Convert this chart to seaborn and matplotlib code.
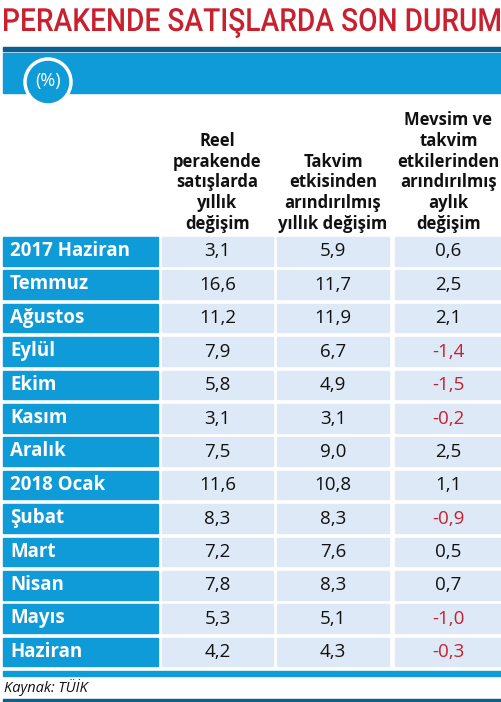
import matplotlib
matplotlib.use("Agg")
import matplotlib.pyplot as plt
import seaborn as sns
from matplotlib.patches import Rectangle, Circle, PathPatch
from matplotlib.textpath import TextPath
from matplotlib.font_manager import FontProperties
from matplotlib.transforms import Affine2D

sns.set_theme(style="white")
plt.rcParams['font.family'] = ['Open Sans', 'DejaVu Sans']

months = ["2017 Haziran", "Temmuz", "Ağustos", "Eylül", "Ekim", "Kasım", "Aralık",
          "2018 Ocak", "Şubat", "Mart", "Nisan", "Mayıs", "Haziran"]
real_yoy = [3.1, 16.6, 11.2, 7.9, 5.8, 3.1, 7.5, 11.6, 8.3, 7.2, 7.8, 5.3, 4.2]
cal_adj_yoy = [5.9, 11.7, 11.9, 6.7, 4.9, 3.1, 9.0, 10.8, 8.3, 7.6, 8.3, 5.1, 4.3]
seas_adj_mom = [0.6, 2.5, 2.1, -1.4, -1.5, -0.2, 2.5, 1.1, -0.9, 0.5, 0.7, -1.0, -0.3]
headers = ["Reel\nperakende\nsatışlarda\nyıllık\ndeğişim",
           "Takvim\netkisinden\narındırılmış\nyıllık değişim",
           "Mevsim ve\ntakvim\netkilerinden\narındırılmış\naylık\ndeğişim"]
title = "PERAKENDE SATIŞLARDA SON DURUM"

BLUE = "#0e9bd8"; DARK = "#0a5f93"; CELL = "#dde9f6"; RED = "#c8202f"

fig = plt.figure(figsize=(5.02, 7.02), dpi=100)
ax = fig.add_axes([0, 0, 1, 1])
ax.set_xlim(0, 502); ax.set_ylim(702, 0); ax.axis("off")

# condensed title via scaled text path
tp = TextPath((0, 0), title, size=10, prop=FontProperties(family="Roboto", weight="medium"))
bb = tp.get_extents()
sx = 496 / bb.width
sy = 30 / (bb.height)
tr = Affine2D().translate(-bb.x0, -bb.y0).scale(sx, -sy).translate(4, 38)
ax.add_patch(PathPatch(tr.transform_path(tp), color=RED, lw=0))

ax.add_patch(Rectangle((3, 47), 499, 4, color=DARK))
ax.add_patch(Rectangle((3, 53), 499, 40, color=BLUE))
ax.add_patch(Circle((48, 82), 23, color=BLUE, ec="white", lw=2.5, zorder=3))
ax.text(48, 81, "(%)", color="white", fontsize=13, ha="center", va="center", zorder=4)

cols = [(162, 111), (277, 112), (395, 107)]
for (x, w), h in zip(cols, headers):
    ax.text(x + w / 2, 233, h, ha="center", va="bottom", fontsize=12,
            fontweight="bold", linespacing=1.2, color="#111111")

pitch = 33.4
for i, m in enumerate(months):
    y = 237 + i * pitch
    ax.add_patch(Rectangle((3, y), 155, 28.5, color=BLUE))
    ax.text(10, y + 14, m, color="white", fontsize=13.5, fontweight="bold", va="center")
    for (x, w), v in zip(cols, [real_yoy[i], cal_adj_yoy[i], seas_adj_mom[i]]):
        ax.add_patch(Rectangle((x, y), w, 28.5, color=CELL))
        ax.text(x + w / 2, y + 14.5, f"{v:.1f}".replace(".", ","), ha="center", va="center",
                fontsize=13.5, color=RED if v < 0 else "#111111")

ax.add_patch(Rectangle((3, 671), 499, 5, color=BLUE))
ax.text(4, 688, "Kaynak: TÜİK", fontsize=10.5, style="italic", va="center", color="#111111")
ax.add_patch(Rectangle((3, 699), 499, 3, color=DARK))

fig.savefig("out.png", dpi=100)
